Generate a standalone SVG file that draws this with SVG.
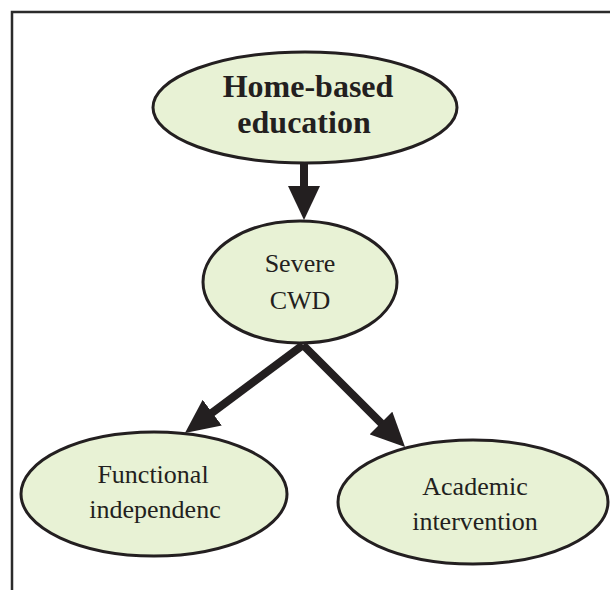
<svg xmlns="http://www.w3.org/2000/svg" width="610" height="590" viewBox="0 0 610 590">
  <style>
    .node { fill: #e8f2d5; stroke: #231f20; stroke-width: 3; }
    .label { font-family: "Liberation Serif", "Times New Roman", serif; fill: #231f20; text-anchor: middle; font-size: 26px; }
    .title { font-weight: bold; font-size: 32px; }
    .edge { stroke: #231f20; stroke-width: 8; fill: none; }
  </style>
  <defs>
    <marker id="head" markerUnits="userSpaceOnUse" markerWidth="34" markerHeight="32" viewBox="0 0 34 32" refX="14" refY="16" orient="auto">
      <path d="M0,0 L34,16 L0,32 z" fill="#231f20"/>
    </marker>
  </defs>
  <rect width="610" height="590" fill="#ffffff"/>
  <path d="M12,590 V12 H610" fill="none" stroke="#2b2b2b" stroke-width="2.5"/>

  <g id="home-based-education">
    <ellipse class="node" cx="305" cy="107.5" rx="152" ry="55.5"/>
    <text class="label title" x="308" y="97">Home-based</text>
    <text class="label title" x="304" y="133">education</text>
  </g>
  <g id="severe-cwd">
    <ellipse class="node" cx="300" cy="282" rx="97" ry="61"/>
    <text class="label" x="300" y="272">Severe</text>
    <text class="label" x="300" y="309">CWD</text>
  </g>
  <g id="functional-independence">
    <ellipse class="node" cx="154" cy="494" rx="133" ry="62"/>
    <text class="label" x="153" y="483">Functional</text>
    <text class="label" x="155" y="518">independenc</text>
  </g>
  <g id="academic-intervention">
    <ellipse class="node" cx="473" cy="502" rx="135" ry="62"/>
    <text class="label" x="475" y="495">Academic</text>
    <text class="label" x="475" y="530">intervention</text>
  </g>

  <g id="connectors">
    <line class="edge" x1="304" y1="164" x2="304" y2="200" marker-end="url(#head)"/>
    <line class="edge" x1="303" y1="345" x2="201" y2="421" marker-end="url(#head)"/>
    <line class="edge" x1="303" y1="345" x2="390.9" y2="432.9" marker-end="url(#head)"/>
  </g>
</svg>
